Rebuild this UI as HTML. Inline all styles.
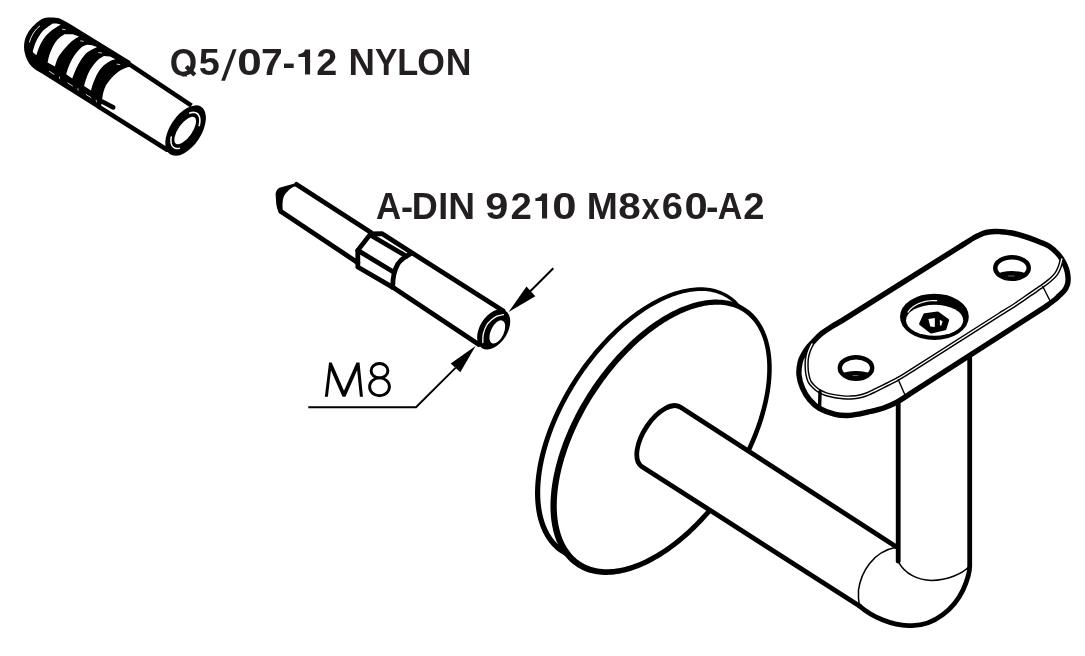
<!DOCTYPE html>
<html><head><meta charset="utf-8">
<style>
html,body{margin:0;padding:0;background:#fff;width:1085px;height:656px;overflow:hidden}
svg{display:block}
.lbl{font-family:"Liberation Sans",sans-serif;font-weight:bold;fill:#231f20}
svg{will-change:transform}
</style></head>
<body>
<svg width="1085" height="656" viewBox="0 0 1085 656">
<rect width="1085" height="656" fill="#fff"/>
<g id="anchor"><path d="M127,62.6 L191.5,105.6" stroke="#000" stroke-width="4.4" fill="none" stroke-linecap="butt"/>
<path d="M99,106.9 L167,149.7" stroke="#000" stroke-width="4.6" fill="none" stroke-linecap="round"/>
<path d="M102,101.5 L113.2,107.4" stroke="#000" stroke-width="4.6" fill="none" stroke-linecap="round"/>
<path fill="#000" d="M44.7,17.9 C50,17.4 56,17.5 59.8,18.6 L67.5,22.6 L130.5,61.2 L131,66.5 C126,67.5 122,69 118,72 C113,76 109,80.5 106,85.2 C104,89 103,93 102.3,98 L101.5,104 L100,109.9 L42,73.4 C37,70.8 33.5,68.5 31,65.7 C28,62.5 25.8,57.5 24.6,52.2 C23.6,47 23.8,40 27.3,33.9 C29.5,30 32,27 34.6,24.8 C37.5,21.5 41,19 44.7,17.9 Z"/>
<path fill="#fff" d="M60.80,24.40 L56.50,23.40 L52.80,23.40 C51.38,24.43 46.73,27.25 44.30,29.60 C41.87,31.95 39.83,34.87 38.20,37.50 C36.57,40.13 35.42,42.97 34.50,45.40 C33.58,47.83 33.00,50.98 32.70,52.10 L36.40,55.20 C36.80,53.98 37.58,50.65 38.80,47.90 C40.02,45.15 41.77,41.45 43.70,38.70 C45.63,35.95 47.55,33.78 50.40,31.40 C53.25,29.02 59.07,25.57 60.80,24.40 Z"/>
<path fill="#fff" d="M78.90,36.40 L72.80,34.20 L64.40,34.20 C63.25,35.08 59.53,37.22 57.50,39.50 C55.47,41.78 53.58,45.23 52.20,47.90 C50.82,50.57 49.97,53.08 49.20,55.50 C48.43,57.92 47.87,61.25 47.60,62.40 L54.90,66.60 C55.47,65.00 56.58,60.12 58.30,57.00 C60.02,53.88 62.92,50.57 65.20,47.90 C67.48,45.23 69.72,42.92 72.00,41.00 C74.28,39.08 77.75,37.17 78.90,36.40 Z"/>
<path fill="#fff" d="M97.00,46.90 L92.00,45.20 L87.40,44.80 C86.38,45.25 83.58,45.55 81.30,47.50 C79.02,49.45 75.77,53.40 73.70,56.50 C71.63,59.60 70.15,63.13 68.90,66.10 C67.65,69.07 66.65,72.93 66.20,74.30 L72.30,78.40 C72.88,76.92 74.42,72.47 75.80,69.50 C77.18,66.53 78.67,63.47 80.60,60.60 C82.53,57.73 84.67,54.58 87.40,52.30 C90.13,50.02 95.40,47.80 97.00,46.90 Z"/>
<path fill="#fff" d="M115.40,59.20 L110.00,56.60 L103.90,56.10 C102.77,56.87 99.38,58.42 97.10,60.70 C94.82,62.98 91.98,66.88 90.20,69.80 C88.42,72.72 87.42,75.52 86.40,78.20 C85.38,80.88 84.48,84.62 84.10,85.90 L91.00,90.40 C91.38,89.13 92.17,85.72 93.30,82.80 C94.43,79.88 96.03,75.82 97.80,72.90 C99.57,69.98 101.73,67.33 103.90,65.30 C106.07,63.27 108.88,61.72 110.80,60.70 C112.72,59.68 114.63,59.45 115.40,59.20 Z"/>
<path d="M29.3,42.5 C31.2,35.5 34.8,29.8 40,25.8" stroke="#fff" stroke-width="0.9" fill="none"/>
<path d="M49.10,71.20 L54.40,74.54" stroke="#fff" stroke-width="0.9" opacity="0.9"/>
<path d="M59.40,76.49 L59.70,79.09" stroke="#fff" stroke-width="0.8" opacity="0.8"/>
<path d="M67.50,82.79 L72.80,86.13" stroke="#fff" stroke-width="0.9" opacity="0.9"/>
<path d="M77.80,88.08 L78.10,90.68" stroke="#fff" stroke-width="0.8" opacity="0.8"/>
<path d="M85.90,94.38 L91.20,97.72" stroke="#fff" stroke-width="0.9" opacity="0.9"/>
<path d="M96.20,99.67 L96.50,102.27" stroke="#fff" stroke-width="0.8" opacity="0.8"/>
<path d="M104.30,105.98 L109.60,109.31" stroke="#fff" stroke-width="0.9" opacity="0.9"/>
<path d="M62.00,29.20 L65.60,29.70" stroke="#fff" stroke-width="0.9" opacity="0.85"/>
<path d="M80.20,40.85 L83.80,41.35" stroke="#fff" stroke-width="0.9" opacity="0.85"/>
<path d="M98.40,52.50 L102.00,53.00" stroke="#fff" stroke-width="0.9" opacity="0.85"/>
<path d="M116.60,64.14 L120.20,64.64" stroke="#fff" stroke-width="0.9" opacity="0.85"/>
<ellipse cx="185.6" cy="130.6" rx="15.6" ry="28.4" transform="rotate(33.3 185.6 130.6)" fill="#000"/>
<ellipse cx="185.2" cy="130.5" rx="6.9" ry="16.1" transform="rotate(35 185.2 130.5)" fill="#fff"/>
<path d="M189.80,113.11 L190.69,112.82 L191.56,112.61 L192.40,112.48 L193.22,112.42 L194.00,112.45 L194.74,112.54 L195.45,112.72 L196.11,112.97 L196.72,113.30 L197.29,113.70 L197.81,114.17 L198.27,114.71 L198.68,115.32 L199.03,115.99 L199.32,116.73 L199.55,117.53 L199.73,118.38 L199.84,119.28 L199.89,120.23 L199.87,121.23 L199.80,122.26 L199.66,123.33 L199.46,124.43 L199.21,125.56" stroke="#fff" stroke-width="1.6" fill="none" stroke-linecap="round"/>
<path d="M179.35,148.36 L178.62,148.49 L177.90,148.56 L177.21,148.58 L176.55,148.53 L175.91,148.43 L175.31,148.27 L174.73,148.05 L174.19,147.77 L173.69,147.44 L173.23,147.06 L172.80,146.62 L172.42,146.13 L172.07,145.59 L171.77,145.01 L171.51,144.37 L171.30,143.69 L171.14,142.97 L171.01,142.21 L170.94,141.41 L170.91,140.57 L170.93,139.70 L171.00,138.81 L171.11,137.88 L171.26,136.94" stroke="#fff" stroke-width="1.5" fill="none" stroke-linecap="round"/></g>
<clipPath id="qclip"><rect x="160" y="40" width="60" height="36.6"/></clipPath>
<g clip-path="url(#qclip)"><text class="lbl" transform="translate(169.74 74.6) scale(0.967 1)" font-size="36.5">Q</text></g>
<path d="M186.2,66.6 L194.8,75" stroke="#231f20" stroke-width="4.2" fill="none"/>
<text class="lbl" transform="translate(198.85 74.6) scale(1.038 1)" font-size="36.5">5</text>
<text class="lbl" transform="translate(237.20 74.6) scale(1.207 1)" font-size="36.5">0</text>
<text class="lbl" transform="translate(261.08 74.6) scale(1.071 1)" font-size="36.5">7</text>
<text class="lbl" transform="translate(282.62 74.6) scale(1.049 1)" font-size="36.5">-</text>
<text class="lbl" transform="translate(316.25 74.6) scale(1.035 1)" font-size="36.5">2</text>
<text class="lbl" transform="translate(348.58 74.6) scale(1.004 1)" font-size="36.5">N</text>
<text class="lbl" transform="translate(374.95 74.6) scale(0.921 1)" font-size="36.5">Y</text>
<text class="lbl" transform="translate(397.13 74.6) scale(0.941 1)" font-size="36.5">L</text>
<text class="lbl" transform="translate(417.13 74.6) scale(0.975 1)" font-size="36.5">O</text>
<text class="lbl" transform="translate(445.74 74.6) scale(0.976 1)" font-size="36.5">N</text>
<path fill="#231f20" d="M221.2,80.8 L225,80.8 L236.6,49.2 L232.8,49.2 Z"/>
<path fill="#231f20" d="M305.00,49.60 L310.10,49.60 L310.10,74.60 L305.00,74.60 L305.00,57.00 L298.40,57.00 L298.40,54.20 C301.60,54.00 304.50,52.60 305.00,49.60 Z"/>
<text class="lbl" transform="translate(376.04 218.6) scale(0.954 1)" font-size="36.5">A</text>
<text class="lbl" transform="translate(401.00 218.6) scale(0.995 1)" font-size="36.5">-</text>
<text class="lbl" transform="translate(411.82 218.6) scale(0.986 1)" font-size="36.5">D</text>
<text class="lbl" transform="translate(438.35 218.6) scale(0.976 1)" font-size="36.5">I</text>
<text class="lbl" transform="translate(448.34 218.6) scale(1.018 1)" font-size="36.5">N</text>
<text class="lbl" transform="translate(485.31 218.6) scale(1.137 1)" font-size="36.5">9</text>
<text class="lbl" transform="translate(510.53 218.6) scale(1.052 1)" font-size="36.5">2</text>
<text class="lbl" transform="translate(552.32 218.6) scale(1.196 1)" font-size="36.5">0</text>
<text class="lbl" transform="translate(586.63 218.6) scale(1.022 1)" font-size="36.5">M</text>
<text class="lbl" transform="translate(618.37 218.6) scale(1.106 1)" font-size="36.5">8</text>
<text class="lbl" transform="translate(641.53 218.6) scale(0.898 1)" font-size="36.5">x</text>
<text class="lbl" transform="translate(661.63 218.6) scale(1.045 1)" font-size="36.5">6</text>
<text class="lbl" transform="translate(684.39 218.6) scale(1.144 1)" font-size="36.5">0</text>
<text class="lbl" transform="translate(706.05 218.6) scale(1.027 1)" font-size="36.5">-</text>
<text class="lbl" transform="translate(717.76 218.6) scale(0.929 1)" font-size="36.5">A</text>
<text class="lbl" transform="translate(743.23 218.6) scale(1.046 1)" font-size="36.5">2</text>
<path fill="#231f20" d="M542.00,193.50 L547.10,193.50 L547.10,218.60 L542.00,218.60 L542.00,200.90 L535.40,200.90 L535.40,198.10 C538.60,197.90 541.50,196.50 542.00,193.50 Z"/>
<g id="bolt"><path fill="#000" d="M297.3,182.7 L279.4,187.8 C277.5,188.6 276,191 275.6,194 L276.2,203.2 C276.6,207 277.5,210.8 280.2,214.2 L282.8,210.8 C282.2,206 282.4,201 283.6,197.1 C284.8,194 286.3,192.5 287.8,191.3 C289.5,189.3 291.5,188 293.2,187.1 C295,186.3 296.8,186 298.5,186 Z"/>
<g stroke="#000" fill="none" stroke-linejoin="round" stroke-linecap="round">
<path d="M371,232.4 L296.6,184.4" stroke-width="4.8"/>
<path d="M281,211.5 L357.8,262.7" stroke-width="4.8"/>
<path d="M370.6,233.9 L357.8,250.4 L357.8,267 L392.8,287.3" stroke-width="4.8"/>
<path d="M370.6,233.9 L381.8,233.6 L503,310.8" stroke-width="4.8"/>
<path d="M371.5,235.8 L406.5,256.2" stroke-width="4.8"/>
<path d="M357.8,250.4 L393.5,272" stroke-width="4.8"/>
<path d="M410.5,253.8 C405,256.5 400.5,260 397.8,264 C394.5,270 392.5,278 392.8,287.3" stroke-width="4.8"/>
<path d="M392.8,287.3 L478.8,344.5" stroke-width="4.8"/>
<ellipse cx="493.7" cy="329.4" rx="13.8" ry="22.1" transform="rotate(32 493.7 329.4)" fill="#000" stroke="none"/>
<ellipse cx="497.3" cy="331.9" rx="6.5" ry="12.4" transform="rotate(25 497.3 331.9)" fill="#fff" stroke="none"/>
<path d="M482.80,342.50 C482.88,341.08 482.68,336.83 483.30,334.00 C483.92,331.17 485.22,327.78 486.50,325.50 C487.78,323.22 489.25,321.85 491.00,320.30 C492.75,318.75 494.92,317.15 497.00,316.20 C499.08,315.25 502.42,314.87 503.50,314.60" stroke="#fff" stroke-width="1.3" fill="none"/>
</g></g>
<g stroke="#000" fill="none"><path d="M553.3,268.2 L530,291.5" stroke-width="2"/><path d="M455.5,367.9 L416,407.2 L308.3,407.2" stroke-width="1.9"/></g>
<path d="M508.6,312.1 L535.3,296.2 L526.5,286.6 Z" fill="#000"/>
<path d="M475.6,346 L460.3,372.3 L450.7,363.5 Z" fill="#000"/>
<path fill="#000" d="M324.86,396.75 L329.05,362.62 L331.71,362.62 L343.98,390.81 L356.48,362.62 L359.52,362.62 L362.95,396.75 L359.90,396.75 L357.16,370.24 L345.43,396.75 L342.53,396.75 L330.95,370.24 L327.90,396.75 Z"/>
<ellipse cx="379.5" cy="370.7" rx="8.4" ry="7.2" fill="none" stroke="#000" stroke-width="2.9"/>
<ellipse cx="379.5" cy="386.8" rx="9.9" ry="8.9" fill="none" stroke="#000" stroke-width="2.9"/>
<g id="bracket"><g stroke="#000" fill="none" stroke-linejoin="round" stroke-linecap="round">
<path d="M716.34,470.20 L714.14,473.54 L711.89,476.85 L709.60,480.12 L707.26,483.36 L704.88,486.55 L702.47,489.71 L700.01,492.82 L697.52,495.88 L694.99,498.90 L692.43,501.87 L689.83,504.78 L687.21,507.64 L684.56,510.44 L681.88,513.19 L679.18,515.87 L676.45,518.50 L673.71,521.06 L670.94,523.55 L668.16,525.98 L665.36,528.34 L662.55,530.63 L659.72,532.85 L656.89,535.00 L654.04,537.07 L651.20,539.06 L648.34,540.98 L645.49,542.82 L642.63,544.58 L639.77,546.26 L636.92,547.86 L634.07,549.37 L631.23,550.80 L628.40,552.14 L625.57,553.40 L622.76,554.57 L619.96,555.65 L617.18,556.65 L614.41,557.55 L611.66,558.36 L608.93,559.08 L606.23,559.71 L603.54,560.25 L600.89,560.70 L598.25,561.05 L595.65,561.30 L593.08,561.46 L590.54,561.53 L588.03,561.50 L585.56,561.37 L583.12,561.15 L580.73,560.83 L578.37,560.41 L576.06,559.89 L573.79,559.28 L571.57,558.57 L569.40,557.76 L567.28,556.85 L565.22,555.85 L563.21,554.75 L561.25,553.56 L559.36,552.27 L557.53,550.89 L555.76,549.42 L554.06,547.86 L552.42,546.22 L550.86,544.48 L549.36,542.66 L547.94,540.76 L546.58,538.78 L545.30,536.72 L544.10,534.59 L542.96,532.38 L541.91,530.09 L540.92,527.74 L540.01,525.32 L539.18,522.83 L538.42,520.28 L537.74,517.66 L537.14,514.98 L536.61,512.24 L536.15,509.45 L535.78,506.60 L535.48,503.69 L535.25,500.74 L535.10,497.73 L535.03,494.68 L535.03,491.58 L535.11,488.43 L535.26,485.25 L535.49,482.02 L535.79,478.76 L536.17,475.46 L536.62,472.13 L537.14,468.76 L537.74,465.37 L538.41,461.95 L539.15,458.50 L539.97,455.04 L540.86,451.55 L541.81,448.04 L542.84,444.52 L543.93,440.98 L545.10,437.44 L546.33,433.88 L547.63,430.32 L548.99,426.76 L550.42,423.19 L551.91,419.63 L553.47,416.07 L555.09,412.51 L556.76,408.96 L558.50,405.42 L560.30,401.90 L562.15,398.39 L564.06,394.89 L566.02,391.42 L568.04,387.97 L570.11,384.54 L572.23,381.14 L574.40,377.77 L576.62,374.43 L578.88,371.13 L581.19,367.86 L583.54,364.62 L585.93,361.43 L588.37,358.28 L590.84,355.18 L593.34,352.12 L595.89,349.11 L598.46,346.15 L601.07,343.24 L603.71,340.39 L606.37,337.60 L609.07,334.86 L611.78,332.18 L614.52,329.57 L617.28,327.02 L620.06,324.54 L622.86,322.12 L625.67,319.77 L628.50,317.50 L631.34,315.29 L634.18,313.16 L637.04,311.11 L639.90,309.13 L642.76,307.23 L645.63,305.41 L648.50,303.66 L651.36,302.01 L654.23,300.43 L657.09,298.94 L659.94,297.53 L662.78,296.22 L665.61,294.98 L668.42,293.84 L671.23,292.79 L674.01,291.82 L676.78,290.95 L679.53,290.17 L682.25,289.48 L684.96,288.88 L687.63,288.38 L690.28,287.97 L692.90,287.65 L695.49,287.43 L698.04,287.30 L700.56,287.27 L703.04,287.34 L705.49,287.50 L707.89,287.75 L710.25,288.10 L712.57,288.55 L714.84,289.09 L717.06,289.72 L719.24,290.45 L721.36,291.27 L723.43,292.18 L725.45,293.19 L727.40,294.29 L729.31,295.47 L731.15,296.75 L732.93,298.11 L734.65,299.56 L736.31,301.10 L737.90,302.72 L739.43,304.42 L740.89,306.20 L742.28,308.07 L743.61,310.01 L744.87,312.03 L746.05,314.12 L747.17,316.29 L748.22,318.54 L749.19,320.85 L750.10,323.23 L750.93,325.68 L751.69,328.20 L752.37,330.78 L752.98,333.43 L753.52,336.13 L753.98,338.90 L754.36,341.72 L754.68,344.59 L754.91,347.52 L755.08,350.50 L755.16,353.53 L755.18,356.61 L755.11,359.74 L754.98,362.90 L754.77,366.11 L754.48,369.36 L754.12,372.64 L753.68,375.96 L753.18,379.31 L752.60,382.69 L751.94,386.10 L751.22,389.53 L750.42,392.99 L749.55,396.47 L748.61,399.97 L747.60,403.48 L746.52,407.01 L745.37,410.55 L744.16,414.10 L742.88,417.66 L741.53,421.22 L740.12,424.78 L738.64,428.34 L737.10,431.90 L735.50,435.45 L733.84,439.00 L732.12,442.54 L730.34,446.06 L728.50,449.57 L726.61,453.07 L724.66,456.54 L722.65,459.99 L720.60,463.42 L718.50,466.82 Z M715.23,464.76 L717.32,461.42 L719.36,458.04 L721.34,454.64 L723.28,451.22 L725.16,447.79 L726.98,444.33 L728.75,440.86 L730.46,437.38 L732.11,433.89 L733.70,430.39 L735.23,426.89 L736.70,423.38 L738.10,419.88 L739.44,416.38 L740.72,412.88 L741.93,409.39 L743.07,405.92 L744.14,402.45 L745.15,399.00 L746.08,395.57 L746.95,392.15 L747.75,388.76 L748.48,385.39 L749.13,382.05 L749.71,378.74 L750.23,375.46 L750.67,372.22 L751.03,369.01 L751.33,365.84 L751.55,362.71 L751.70,359.62 L751.77,356.58 L751.77,353.58 L751.70,350.64 L751.56,347.74 L751.34,344.90 L751.05,342.11 L750.69,339.39 L750.26,336.72 L749.76,334.11 L749.18,331.56 L748.54,329.08 L747.82,326.67 L747.04,324.32 L746.18,322.05 L745.26,319.84 L744.27,317.71 L743.22,315.65 L742.10,313.67 L740.91,311.77 L739.66,309.94 L738.35,308.19 L736.98,306.52 L735.55,304.93 L734.05,303.43 L732.50,302.01 L730.89,300.67 L729.22,299.41 L727.50,298.24 L725.72,297.16 L723.89,296.16 L722.01,295.25 L720.08,294.42 L718.09,293.69 L716.06,293.04 L713.98,292.48 L711.85,292.00 L709.68,291.62 L707.46,291.32 L705.20,291.12 L702.90,291.00 L700.56,290.97 L698.18,291.03 L695.77,291.19 L693.31,291.43 L690.83,291.76 L688.31,292.18 L685.76,292.69 L683.18,293.29 L680.58,293.98 L677.95,294.76 L675.29,295.63 L672.62,296.58 L669.93,297.63 L667.21,298.76 L664.48,299.97 L661.74,301.27 L658.99,302.66 L656.23,304.13 L653.45,305.68 L650.68,307.31 L647.89,309.02 L645.11,310.82 L642.33,312.69 L639.55,314.64 L636.77,316.66 L634.00,318.76 L631.23,320.93 L628.48,323.17 L625.73,325.49 L623.01,327.87 L620.29,330.32 L617.60,332.83 L614.92,335.41 L612.27,338.04 L609.64,340.74 L607.03,343.50 L604.45,346.31 L601.90,349.18 L599.38,352.09 L596.89,355.06 L594.44,358.08 L592.02,361.14 L589.64,364.24 L587.30,367.39 L585.00,370.58 L582.74,373.80 L580.53,377.06 L578.36,380.35 L576.24,383.67 L574.17,387.02 L572.15,390.40 L570.17,393.80 L568.26,397.22 L566.39,400.66 L564.58,404.11 L562.83,407.58 L561.14,411.06 L559.50,414.55 L557.93,418.04 L556.41,421.54 L554.96,425.04 L553.58,428.55 L552.25,432.04 L550.99,435.53 L549.80,439.02 L548.68,442.49 L547.62,445.95 L546.63,449.39 L545.71,452.82 L544.86,456.22 L544.08,459.60 L543.37,462.96 L542.73,466.29 L542.17,469.59 L541.67,472.85 L541.25,476.08 L540.90,479.28 L540.62,482.43 L540.42,485.54 L540.28,488.61 L540.22,491.63 L540.24,494.61 L540.32,497.53 L540.48,500.40 L540.71,503.21 L541.00,505.97 L541.38,508.67 L541.82,511.31 L542.33,513.88 L542.91,516.39 L543.55,518.84 L544.27,521.22 L545.05,523.52 L545.90,525.76 L546.81,527.93 L547.79,530.02 L548.83,532.03 L549.93,533.98 L551.09,535.84 L552.31,537.63 L553.60,539.34 L554.93,540.98 L556.33,542.53 L557.78,544.01 L559.29,545.41 L560.85,546.73 L562.47,547.97 L564.14,549.12 L565.87,550.20 L567.64,551.20 L569.48,552.11 L571.36,552.95 L573.29,553.70 L575.28,554.36 L577.32,554.95 L579.40,555.44 L581.54,555.86 L583.72,556.18 L585.95,556.42 L588.22,556.57 L590.54,556.63 L592.90,556.60 L595.29,556.48 L597.73,556.28 L600.21,555.98 L602.71,555.59 L605.26,555.11 L607.83,554.55 L610.43,553.89 L613.06,553.14 L615.72,552.30 L618.39,551.38 L621.09,550.36 L623.81,549.26 L626.54,548.07 L629.29,546.79 L632.05,545.43 L634.83,543.99 L637.61,542.46 L640.40,540.84 L643.19,539.15 L645.98,537.37 L648.78,535.52 L651.57,533.59 L654.36,531.58 L657.15,529.50 L659.93,527.34 L662.69,525.11 L665.45,522.81 L668.19,520.44 L670.92,518.00 L673.63,515.50 L676.32,512.93 L678.98,510.31 L681.63,507.62 L684.25,504.87 L686.84,502.07 L689.41,499.21 L691.94,496.30 L694.45,493.34 L696.91,490.33 L699.35,487.27 L701.74,484.17 L704.10,481.03 L706.41,477.85 L708.68,474.63 L710.91,471.37 L713.10,468.08 Z" fill="#000" stroke="none"/>
<ellipse cx="661.55" cy="437.1" rx="82.54" ry="151.84" transform="rotate(33.07 661.55 437.1)" fill="#fff" stroke="none"/>
<path d="M732.73,483.45 L730.53,486.80 L728.27,490.11 L725.98,493.39 L723.63,496.63 L721.25,499.83 L718.83,502.99 L716.37,506.10 L713.87,509.17 L711.33,512.19 L708.77,515.16 L706.17,518.08 L703.54,520.94 L700.88,523.75 L698.20,526.50 L695.49,529.19 L692.75,531.82 L690.00,534.38 L687.23,536.88 L684.44,539.31 L681.63,541.68 L678.82,543.97 L675.98,546.19 L673.14,548.34 L670.29,550.42 L667.44,552.42 L664.57,554.34 L661.71,556.18 L658.84,557.94 L655.98,559.62 L653.12,561.22 L650.26,562.74 L647.41,564.17 L644.57,565.52 L641.73,566.78 L638.91,567.95 L636.10,569.04 L633.31,570.03 L630.53,570.94 L627.77,571.75 L625.03,572.48 L622.31,573.11 L619.61,573.65 L616.94,574.09 L614.30,574.44 L611.68,574.70 L609.09,574.86 L606.54,574.93 L604.02,574.90 L601.53,574.77 L599.08,574.55 L596.66,574.22 L594.29,573.80 L591.96,573.28 L589.68,572.67 L587.44,571.95 L585.25,571.14 L583.11,570.23 L581.02,569.22 L578.99,568.12 L577.02,566.92 L575.11,565.62 L573.26,564.23 L571.47,562.75 L569.75,561.18 L568.10,559.52 L566.52,557.78 L565.00,555.95 L563.56,554.03 L562.19,552.04 L560.90,549.96 L559.68,547.81 L558.53,545.59 L557.46,543.29 L556.46,540.92 L555.54,538.49 L554.70,535.98 L553.93,533.41 L553.24,530.78 L552.63,528.09 L552.09,525.34 L551.63,522.53 L551.25,519.66 L550.94,516.74 L550.71,513.77 L550.56,510.75 L550.48,507.69 L550.48,504.57 L550.55,501.42 L550.70,498.22 L550.93,494.98 L551.23,491.70 L551.60,488.39 L552.05,485.05 L552.58,481.67 L553.17,478.26 L553.84,474.83 L554.59,471.38 L555.40,467.90 L556.29,464.40 L557.24,460.88 L558.27,457.35 L559.37,453.81 L560.53,450.25 L561.76,446.68 L563.06,443.11 L564.43,439.54 L565.86,435.96 L567.35,432.39 L568.91,428.82 L570.53,425.25 L572.21,421.69 L573.95,418.15 L575.75,414.61 L577.60,411.09 L579.52,407.59 L581.48,404.11 L583.50,400.65 L585.58,397.21 L587.70,393.81 L589.87,390.43 L592.09,387.08 L594.36,383.76 L596.67,380.49 L599.03,377.25 L601.42,374.04 L603.86,370.89 L606.33,367.77 L608.85,364.71 L611.40,361.69 L613.98,358.72 L616.59,355.81 L619.23,352.95 L621.90,350.14 L624.60,347.40 L627.33,344.71 L630.07,342.09 L632.84,339.53 L635.62,337.04 L638.43,334.62 L641.25,332.26 L644.08,329.97 L646.93,327.76 L649.78,325.62 L652.65,323.56 L655.52,321.57 L658.39,319.66 L661.27,317.83 L664.15,316.08 L667.03,314.42 L669.90,312.83 L672.77,311.33 L675.64,309.92 L678.49,308.59 L681.34,307.35 L684.17,306.20 L686.99,305.14 L689.79,304.17 L692.58,303.28 L695.35,302.50 L698.09,301.80 L700.81,301.20 L703.51,300.69 L706.18,300.27 L708.82,299.95 L711.44,299.73 L714.02,299.60 L716.56,299.57 L719.07,299.64 L721.54,299.80 L723.98,300.06 L726.37,300.41 L728.71,300.86 L731.01,301.41 L733.27,302.06 L735.47,302.80 L737.62,303.63 L739.72,304.56 L741.76,305.58 L743.75,306.70 L745.67,307.91 L747.54,309.20 L749.35,310.59 L751.09,312.06 L752.76,313.62 L754.37,315.27 L755.92,317.00 L757.39,318.81 L758.80,320.70 L760.14,322.66 L761.41,324.71 L762.60,326.83 L763.73,329.02 L764.78,331.29 L765.76,333.63 L766.66,336.03 L767.50,338.50 L768.25,341.04 L768.94,343.64 L769.55,346.31 L770.08,349.03 L770.54,351.81 L770.93,354.65 L771.24,357.54 L771.47,360.49 L771.63,363.48 L771.72,366.53 L771.73,369.62 L771.66,372.75 L771.52,375.93 L771.30,379.15 L771.01,382.41 L770.65,385.71 L770.21,389.03 L769.70,392.39 L769.11,395.78 L768.45,399.20 L767.72,402.65 L766.92,406.11 L766.04,409.60 L765.10,413.11 L764.09,416.63 L763.00,420.16 L761.85,423.71 L760.63,427.27 L759.34,430.83 L757.99,434.40 L756.58,437.96 L755.09,441.53 L753.55,445.10 L751.94,448.66 L750.28,452.21 L748.55,455.75 L746.76,459.28 L744.92,462.80 L743.02,466.30 L741.07,469.78 L739.06,473.23 L737.00,476.67 L734.89,480.07 Z M730.83,477.51 L732.92,474.17 L734.95,470.80 L736.93,467.41 L738.86,463.99 L740.74,460.56 L742.55,457.11 L744.32,453.65 L746.02,450.17 L747.67,446.68 L749.25,443.19 L750.78,439.70 L752.24,436.20 L753.64,432.70 L754.98,429.21 L756.25,425.72 L757.45,422.23 L758.59,418.76 L759.66,415.30 L760.66,411.86 L761.59,408.44 L762.45,405.03 L763.24,401.65 L763.97,398.29 L764.62,394.96 L765.20,391.66 L765.70,388.39 L766.14,385.15 L766.50,381.95 L766.79,378.79 L767.01,375.68 L767.15,372.60 L767.22,369.57 L767.22,366.59 L767.15,363.66 L767.00,360.78 L766.78,357.95 L766.49,355.18 L766.13,352.47 L765.69,349.82 L765.19,347.23 L764.61,344.70 L763.97,342.24 L763.25,339.85 L762.47,337.53 L761.62,335.27 L760.70,333.09 L759.72,330.98 L758.67,328.95 L757.56,326.99 L756.38,325.11 L755.15,323.31 L753.85,321.59 L752.49,319.94 L751.07,318.38 L749.60,316.90 L748.06,315.50 L746.47,314.19 L744.83,312.96 L743.13,311.81 L741.38,310.75 L739.58,309.77 L737.72,308.87 L735.82,308.06 L733.86,307.34 L731.86,306.70 L729.81,306.15 L727.71,305.68 L725.57,305.31 L723.38,305.02 L721.15,304.81 L718.88,304.70 L716.56,304.67 L714.21,304.73 L711.82,304.88 L709.39,305.12 L706.93,305.45 L704.43,305.87 L701.90,306.38 L699.35,306.97 L696.76,307.65 L694.15,308.43 L691.52,309.29 L688.86,310.23 L686.18,311.27 L683.48,312.39 L680.77,313.60 L678.04,314.89 L675.30,316.27 L672.55,317.73 L669.79,319.27 L667.02,320.89 L664.25,322.60 L661.48,324.38 L658.71,326.25 L655.93,328.19 L653.17,330.20 L650.40,332.29 L647.65,334.45 L644.90,336.69 L642.17,338.99 L639.44,341.37 L636.74,343.81 L634.05,346.31 L631.38,348.88 L628.73,351.51 L626.11,354.20 L623.51,356.94 L620.93,359.75 L618.39,362.60 L615.87,365.51 L613.39,368.47 L610.94,371.48 L608.53,374.53 L606.15,377.63 L603.82,380.77 L601.52,383.95 L599.27,387.16 L597.06,390.41 L594.89,393.70 L592.77,397.01 L590.70,400.35 L588.68,403.72 L586.72,407.11 L584.80,410.52 L582.94,413.95 L581.13,417.39 L579.38,420.85 L577.69,424.33 L576.06,427.81 L574.49,431.29 L572.97,434.78 L571.53,438.27 L570.14,441.76 L568.82,445.25 L567.56,448.73 L566.37,452.21 L565.24,455.67 L564.19,459.12 L563.20,462.55 L562.28,465.97 L561.43,469.36 L560.65,472.73 L559.94,476.08 L559.30,479.39 L558.73,482.68 L558.24,485.93 L557.81,489.15 L557.46,492.33 L557.18,495.48 L556.97,498.57 L556.84,501.63 L556.77,504.64 L556.78,507.60 L556.86,510.51 L557.02,513.36 L557.24,516.16 L557.53,518.91 L557.90,521.59 L558.33,524.21 L558.83,526.77 L559.41,529.27 L560.05,531.70 L560.75,534.06 L561.52,536.36 L562.36,538.58 L563.26,540.73 L564.23,542.80 L565.25,544.81 L566.34,546.74 L567.48,548.59 L568.69,550.36 L569.95,552.06 L571.28,553.68 L572.65,555.23 L574.09,556.69 L575.58,558.08 L577.12,559.39 L578.72,560.62 L580.37,561.77 L582.08,562.84 L583.84,563.83 L585.65,564.74 L587.51,565.57 L589.43,566.31 L591.40,566.98 L593.42,567.55 L595.48,568.05 L597.60,568.46 L599.77,568.78 L601.98,569.02 L604.24,569.17 L606.54,569.23 L608.88,569.20 L611.27,569.08 L613.69,568.88 L616.15,568.58 L618.64,568.20 L621.17,567.72 L623.73,567.15 L626.32,566.50 L628.94,565.75 L631.59,564.92 L634.25,563.99 L636.94,562.98 L639.65,561.88 L642.37,560.69 L645.11,559.42 L647.86,558.06 L650.63,556.62 L653.40,555.09 L656.18,553.48 L658.96,551.79 L661.75,550.02 L664.54,548.17 L667.33,546.24 L670.11,544.23 L672.89,542.15 L675.66,540.00 L678.42,537.77 L681.17,535.48 L683.90,533.11 L686.62,530.68 L689.32,528.18 L692.01,525.62 L694.67,522.99 L697.31,520.31 L699.92,517.56 L702.51,514.77 L705.07,511.91 L707.60,509.00 L710.10,506.05 L712.56,503.04 L714.99,499.99 L717.37,496.89 L719.72,493.75 L722.03,490.58 L724.30,487.36 L726.53,484.11 L728.70,480.83 Z" fill="#000" stroke="none"/>
<path d="M681,407.5 L895.8,546.5 L898,600 L859.5,606 L641.3,466.2 A17.5,35 33 0 1 681,407.5 Z" fill="#fff" stroke="none"/>
<path d="M895.8,546.5 L681,407.5 A17.5,35 33 0 0 641.3,466.2 L859.5,606" stroke-width="4.8"/>
<path d="M898.2,401.5 L898.2,561.2" stroke-width="4.8"/>
<path d="M969.7,357.6 L969.7,566 C969.7,572 968,579 963,590 C955,607 935,627 909.5,625.6 C893,626 872,617 859.5,606" stroke-width="4.8"/>
<path d="M894.9,547.5 C873,552 861,572 858.5,590 C858,597 858.5,601 859.5,606" stroke-width="1.5"/>
<path d="M898.6,562.1 C905,574 918,580.4 931.5,580.4 C948,580.4 963,573 968.1,567.6" stroke-width="1.5"/>
<path d="M960.00,246.50 C962.12,245.17 969.62,240.33 972.70,238.50 C975.78,236.67 976.70,236.37 978.50,235.50 C980.30,234.63 981.75,233.88 983.50,233.30 C985.25,232.72 987.12,232.30 989.00,232.00 C990.88,231.70 992.97,231.57 994.80,231.50 C996.63,231.43 997.13,231.35 1000.00,231.60 C1002.87,231.85 1007.93,232.22 1012.00,233.00 C1016.07,233.78 1020.40,235.05 1024.40,236.30 C1028.40,237.55 1031.93,238.88 1036.00,240.50 C1040.07,242.12 1045.22,243.83 1048.80,246.00 C1052.38,248.17 1055.05,250.83 1057.50,253.50 C1059.95,256.17 1061.95,259.25 1063.50,262.00 C1065.05,264.75 1066.05,267.50 1066.80,270.00 C1067.55,272.50 1067.83,274.83 1068.00,277.00 C1068.17,279.17 1068.13,281.17 1067.80,283.00 C1067.47,284.83 1066.72,286.58 1066.00,288.00 C1065.28,289.42 1064.67,290.20 1063.50,291.50 C1062.33,292.80 1060.50,294.38 1059.00,295.80 C1057.50,297.22 1056.83,298.13 1054.50,300.00 C1052.17,301.87 1046.58,305.83 1045.00,307.00 L910.00,393.80 C907.50,395.37 899.52,400.80 895.00,403.20 C890.48,405.60 887.07,406.82 882.90,408.20 C878.73,409.58 873.82,410.57 870.00,411.50 C866.18,412.43 863.67,413.13 860.00,413.80 C856.33,414.47 852.13,415.40 848.00,415.50 C843.87,415.60 839.97,415.60 835.20,414.40 C830.43,413.20 823.67,410.73 819.40,408.30 C815.13,405.87 812.42,403.18 809.60,399.80 C806.78,396.42 804.27,392.13 802.50,388.00 C800.73,383.87 799.38,379.33 799.00,375.00 C798.62,370.67 799.37,365.58 800.20,362.00 C801.03,358.42 802.57,356.08 804.00,353.50 C805.43,350.92 807.05,348.70 808.80,346.50 C810.55,344.30 812.30,342.52 814.50,340.30 C816.70,338.08 819.42,335.30 822.00,333.20 C824.58,331.10 826.67,329.80 830.00,327.70 C833.33,325.60 840.00,321.78 842.00,320.60 Z" fill="#fff" stroke-width="5.4"/>
<path d="M812.00,344.00 C811.47,345.17 809.63,348.67 808.80,351.00 C807.97,353.33 807.37,355.50 807.00,358.00 C806.63,360.50 806.55,363.33 806.60,366.00 C806.65,368.67 806.80,371.37 807.30,374.00 C807.80,376.63 808.48,379.63 809.60,381.80 C810.72,383.97 812.37,385.43 814.00,387.00 C815.63,388.57 817.40,390.00 819.40,391.20 C821.40,392.40 823.37,393.35 826.00,394.20 C828.63,395.05 832.37,395.78 835.20,396.30 C838.03,396.82 840.35,397.10 843.00,397.30 C845.65,397.50 848.27,397.65 851.10,397.50 C853.93,397.35 857.18,397.02 860.00,396.40 C862.82,395.78 865.33,394.87 868.00,393.80 C870.67,392.73 872.67,391.63 876.00,390.00 C879.33,388.37 884.28,385.90 888.00,384.00 C891.72,382.10 894.63,380.68 898.30,378.60 C901.97,376.52 908.05,372.68 910.00,371.50 L1000.00,314.20 C1002.65,312.53 1010.90,307.48 1015.90,304.20 C1020.90,300.92 1025.53,297.57 1030.00,294.50 C1034.47,291.43 1039.37,288.18 1042.70,285.80 C1046.03,283.42 1047.77,282.17 1050.00,280.20 C1052.23,278.23 1054.47,276.28 1056.10,274.00 C1057.73,271.72 1058.85,269.00 1059.80,266.50 C1060.75,264.00 1061.47,260.25 1061.80,259.00" stroke-width="4.3"/>
<path d="M812.00,344.00 C811.47,345.17 809.63,348.67 808.80,351.00 C807.97,353.33 807.37,355.50 807.00,358.00 C806.63,360.50 806.55,363.33 806.60,366.00 C806.65,368.67 806.80,371.37 807.30,374.00 C807.80,376.63 808.48,379.63 809.60,381.80 C810.72,383.97 812.37,385.43 814.00,387.00 C815.63,388.57 817.40,390.00 819.40,391.20 C821.40,392.40 823.37,393.35 826.00,394.20 C828.63,395.05 832.37,395.78 835.20,396.30 C838.03,396.82 840.35,397.10 843.00,397.30 C845.65,397.50 848.27,397.65 851.10,397.50 C853.93,397.35 857.18,397.02 860.00,396.40 C862.82,395.78 865.33,394.87 868.00,393.80 C870.67,392.73 872.67,391.63 876.00,390.00 C879.33,388.37 884.28,385.90 888.00,384.00 C891.72,382.10 894.63,380.68 898.30,378.60 C901.97,376.52 908.05,372.68 910.00,371.50 L1000.00,314.20 C1002.65,312.53 1010.90,307.48 1015.90,304.20 C1020.90,300.92 1025.53,297.57 1030.00,294.50 C1034.47,291.43 1039.37,288.18 1042.70,285.80 C1046.03,283.42 1047.77,282.17 1050.00,280.20 C1052.23,278.23 1054.47,276.28 1056.10,274.00 C1057.73,271.72 1058.85,269.00 1059.80,266.50 C1060.75,264.00 1061.47,260.25 1061.80,259.00" stroke="#fff" stroke-width="1.4"/>
<path d="M820,391.5 L819.6,408.3" stroke-width="3.4"/>
<path d="M898.3,379.8 L905,395" stroke-width="1.4"/>
<path d="M1042.8,286.5 L1050,300.8" stroke-width="1.4"/>
<clipPath id="hL"><ellipse cx="856" cy="368" rx="16.2" ry="10.7"/></clipPath>
<ellipse cx="856" cy="385" rx="25" ry="14" fill="#000" stroke="none" clip-path="url(#hL)"/>
<ellipse cx="856" cy="368" rx="16.2" ry="10.7" stroke-width="4.4"/>
<path d="M853,375.6 L858,375.6" stroke="#888" stroke-width="0.8"/>
<clipPath id="hR"><ellipse cx="1012" cy="268" rx="16.75" ry="10.85"/></clipPath>
<ellipse cx="1012" cy="285" rx="25" ry="14" fill="#000" stroke="none" clip-path="url(#hR)"/>
<ellipse cx="1012" cy="268" rx="16.75" ry="10.85" stroke-width="4.5"/>
<path d="M1008.5,276 L1014,276" stroke="#888" stroke-width="0.8"/>
<ellipse cx="934.4" cy="316.8" rx="32.3" ry="21" fill="#000" stroke="#000" stroke-width="4.2"/>
<ellipse cx="934.6" cy="320.2" rx="28.6" ry="15.5" fill="#fff" stroke="none"/>
<path d="M908.08,312.18 L908.52,311.46 L909.00,310.76 L909.54,310.07 L910.12,309.40 L910.75,308.74 L911.43,308.11 L912.14,307.49 L912.90,306.89 L913.70,306.31 L914.54,305.75 L915.42,305.22 L916.33,304.72 L917.28,304.24 L918.25,303.78 L919.26,303.36 L920.30,302.96 L921.36,302.59 L922.45,302.25 L923.56,301.94 L924.69,301.66 L925.84,301.41 L927.00,301.20 L928.18,301.02 L929.37,300.87 L930.57,300.75 L931.78,300.67 L932.99,300.62 L934.20,300.60 L935.41,300.62 L936.62,300.67" stroke="#fff" stroke-width="1.2"/>
<path d="M924.8,314.7 L937.6,312.9 L947.6,320.2 L944.9,328.9 L931.2,332.1 L920.6,323.9 Z" fill="#000" stroke-width="3"/>
<path d="M928.4,318.9 L934.8,317.9 L934.8,327.1 L930.3,326.6 Z" fill="#fff" stroke="none"/>
<path d="M939.9,319.8 L942.6,321.6 L941.2,325.7 L939.9,325.3 Z" fill="#fff" stroke="none"/>
</g></g>

</svg>
</body></html>
